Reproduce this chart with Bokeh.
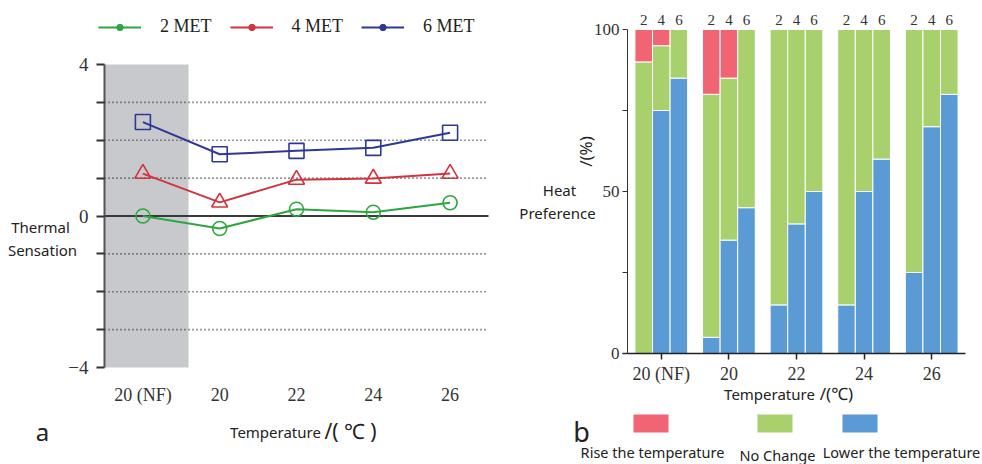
import math
from bokeh.plotting import figure
from bokeh.layouts import row
from bokeh.models import (ColumnDataSource, FixedTicker, BoxAnnotation, Label,
                          LabelSet, Legend, LegendItem, LinearAxis, Range1d)
from bokeh.core.properties import value
from bokeh.embed import file_html
from bokeh.resources import INLINE

# ---------------- data ----------------
temp_labels = ["20 (NF)", "20", "22", "24", "26"]
met_names = ["2 MET", "4 MET", "6 MET"]
met_short = ["2", "4", "6"]

# panel a: thermal sensation
ts_2met = [0.0, -0.33, 0.18, 0.1, 0.35]
ts_4met = [1.12, 0.36, 0.96, 0.99, 1.12]
ts_6met = [2.48, 1.63, 1.72, 1.8, 2.2]
ts_ticks = [-4, -3, -2, -1, 0, 1, 2, 3, 4]
ts_tick_labels = {4: "4", 0: "0", -4: "\u22124"}
ts_dotted = [-3, -2, -1, 1, 2, 3]

# panel b: heat preference (%)
rise_2met = [10, 20, 0, 0, 0]
nochange_2met = [90, 75, 85, 85, 75]
lower_2met = [0, 5, 15, 15, 25]

rise_4met = [5, 15, 0, 0, 0]
nochange_4met = [20, 50, 60, 50, 30]
lower_4met = [75, 35, 40, 50, 70]

rise_6met = [0, 0, 0, 0, 0]
nochange_6met = [15, 55, 50, 40, 20]
lower_6met = [85, 45, 50, 60, 80]

hp_ticks = [0, 25, 50, 75, 100]
hp_tick_labels = {0: "0", 50: "50", 100: "100"}
pref_names = ["Rise the temperature", "No Change", "Lower the temperature"]

# ---------------- styles / layout (page pixels) ----------------
SERIF = "Liberation Serif"
SANS = "Noto Sans"
line_colors = ["#2ea640", "#d1343e", "#2e3896"]
markers = ["circle", "triangle", "square"]
marker_sizes = [14, 16, 15]
bar_colors = ["#f06473", "#a8d06c", "#5b9bd5"]  # rise, no change, lower

OX, OY = 0, 0
H = 464
W1, W2 = 516, 466

# panel a plot area in page pixels
A_L, A_R, A_T, A_B = 104, 488, 64, 367
# panel b plot area in page pixels
B_L, B_R, B_T, B_B = 627, 965, 29, 353

a_xpu = (A_R - A_L) / 5.0
a_ypu = (A_B - A_T) / 8.0
b_xpu = (B_R - B_L) / 5.0
b_ypu = (B_B - B_T) / 100.0


def ax1(px):
    return -0.5 + (px - A_L) / a_xpu


def ay1(py):
    return 4 - (py - A_T) / a_ypu


def ax2(px):
    return -0.5 + (px - B_L) / b_xpu


def ay2(py):
    return (B_B - py) / b_ypu


# ---------------- panel a ----------------
p1 = figure(width=W1, height=H,
            x_range=Range1d(ax1(OX), ax1(OX + W1)), y_range=Range1d(ay1(OY + H), ay1(OY)),
            output_backend="svg", toolbar_location=None,
            x_axis_location=None, y_axis_location=None,
            min_border_left=0, min_border_right=0, min_border_top=0, min_border_bottom=0)
p1.outline_line_color = None
p1.xgrid.visible = False
p1.ygrid.visible = False

p1.add_layout(BoxAnnotation(left=-0.5, right=ax1(188), bottom=-4, top=4, fill_color="#c8c9cc",
                            fill_alpha=1.0, line_color=None, level="underlay"))
p1.segment(x0=[-0.5] * len(ts_dotted), x1=[4.5] * len(ts_dotted), y0=ts_dotted, y1=ts_dotted,
           line_color="#333333", line_width=1.6, line_dash="1 3")
p1.segment(x0=[-0.5], x1=[4.5], y0=[0], y1=[0], line_color="#3a3a3a", line_width=2)

xs = list(range(len(temp_labels)))
series = [ts_2met, ts_4met, ts_6met]
legend_items = []
nan = float("nan")
for k, ys in enumerate(series):
    src = ColumnDataSource(dict(x=xs, y=ys))
    lr = p1.line("x", "y", source=src, line_color=line_colors[k], line_width=2)
    p1.scatter("x", "y", source=src, marker=markers[k], size=marker_sizes[k],
               fill_color=None, line_color=line_colors[k], line_width=1.6)
    dummy = p1.scatter(x=[nan], y=[nan], marker="circle", size=5, fill_color=line_colors[k],
                       line_color=line_colors[k])
    legend_items.append(LegendItem(label=met_names[k], renderers=[lr, dummy]))

leg = Legend(items=legend_items, orientation="horizontal", location=(98, 427),
             glyph_width=43, glyph_height=16, label_standoff=19, spacing=18,
             padding=0, margin=0, border_line_color=None, background_fill_alpha=0,
             label_text_font=SERIF, label_text_font_size="18px", label_text_color="#222222")
p1.add_layout(leg, "center")

ya = LinearAxis(fixed_location=-0.5, bounds=(-4, 4), ticker=FixedTicker(ticks=ts_ticks))
ya.major_label_overrides = {t: ts_tick_labels.get(t, "") for t in ts_ticks}
ya.axis_line_color = "#555555"
ya.axis_line_width = 2
ya.major_tick_out = 8
ya.major_tick_in = 0
ya.major_tick_line_color = "#333333"
ya.major_tick_line_width = 2
ya.minor_tick_line_color = None
ya.major_label_text_font = SERIF
ya.major_label_text_font_size = "19px"
ya.major_label_text_color = "#333333"
ya.major_label_standoff = 8
p1.add_layout(ya, "left")

xa = LinearAxis(fixed_location=-4, bounds=(-0.5, 4.5), ticker=FixedTicker(ticks=xs))
xa.major_label_overrides = {i: t for i, t in enumerate(temp_labels)}
xa.axis_line_color = None
xa.major_tick_line_color = None
xa.minor_tick_line_color = None
xa.major_tick_out = 0
xa.major_tick_in = 0
xa.major_label_text_font = SERIF
xa.major_label_text_font_size = "18px"
xa.major_label_text_color = "#333333"
xa.major_label_standoff = 17
p1.add_layout(xa, "below")

for txt, px, py, fs in [("Thermal", 40, 226, "15px"), ("Sensation", 42, 249, "15px"),
                        ("Temperature", 275, 431, "15px"), ("/( \u2103 )", 350, 430, "21px"),
                        ("a", 42, 431, "24px")]:
    p1.add_layout(Label(x=ax1(px), y=ay1(py), text=txt, text_align="center",
                        text_baseline="middle", text_font=SANS, text_font_size=fs,
                        text_color="#222222"))

# ---------------- panel b ----------------
p2 = figure(width=W2, height=H,
            x_range=Range1d(ax2(OX + W1), ax2(OX + W1 + W2)), y_range=Range1d(ay2(OY + H), ay2(OY)),
            output_backend="svg", toolbar_location=None,
            x_axis_location=None, y_axis_location=None,
            min_border_left=0, min_border_right=0, min_border_top=0, min_border_bottom=0)
p2.outline_line_color = None
p2.xgrid.visible = False
p2.ygrid.visible = False

bar_w = 0.26
met_data = [(rise_2met, nochange_2met, lower_2met),
            (rise_4met, nochange_4met, lower_4met),
            (rise_6met, nochange_6met, lower_6met)]
lab_x, lab_t = [], []
for j, (rise, noch, low) in enumerate(met_data):
    bx = [i + (j - 1) * bar_w for i in xs]
    b_low_top = list(low)
    b_no_top = [l + n for l, n in zip(low, noch)]
    b_rise_top = [l + n + r for l, n, r in zip(low, noch, rise)]
    src = ColumnDataSource(dict(x=bx, zero=[0] * len(bx), lt=b_low_top, nt=b_no_top, rt=b_rise_top))
    p2.vbar(x="x", width=bar_w, bottom="zero", top="lt", source=src,
            fill_color=bar_colors[2], line_color="white", line_width=1)
    p2.vbar(x="x", width=bar_w, bottom="lt", top="nt", source=src,
            fill_color=bar_colors[1], line_color="white", line_width=1)
    p2.vbar(x="x", width=bar_w, bottom="nt", top="rt", source=src,
            fill_color=bar_colors[0], line_color="white", line_width=1)
    lab_x += bx
    lab_t += [met_short[j]] * len(bx)

lab_src = ColumnDataSource(dict(x=lab_x, y=[ay2(19)] * len(lab_x), t=lab_t))
p2.add_layout(LabelSet(x="x", y="y", text="t", source=lab_src, text_align="center",
                       text_baseline="middle", text_font=value(SERIF), text_font_size="15px",
                       text_color="#333333"))

ya2 = LinearAxis(fixed_location=-0.5, bounds=(0, 100), ticker=FixedTicker(ticks=hp_ticks))
ya2.major_label_overrides = {t: hp_tick_labels.get(t, "") for t in hp_ticks}
ya2.axis_line_color = "#333333"
ya2.axis_line_width = 1
ya2.major_tick_out = 5
ya2.major_tick_in = 0
ya2.major_tick_line_color = "#333333"
ya2.minor_tick_line_color = None
ya2.major_label_text_font = SERIF
ya2.major_label_text_font_size = "17px"
ya2.major_label_text_color = "#333333"
ya2.major_label_standoff = 3
p2.add_layout(ya2, "left")

xa2 = LinearAxis(fixed_location=0, bounds=(ax2(B_L - 5), 4.5), ticker=FixedTicker(ticks=xs))
xa2.major_label_overrides = {i: t for i, t in enumerate(temp_labels)}
xa2.axis_line_color = "#222222"
xa2.axis_line_width = 1.5
xa2.major_tick_out = 6
xa2.major_tick_in = 0
xa2.major_tick_line_color = "#222222"
xa2.major_tick_line_width = 1.5
xa2.minor_tick_line_color = None
xa2.major_label_text_font = SERIF
xa2.major_label_text_font_size = "18px"
xa2.major_label_text_color = "#333333"
xa2.major_label_standoff = 4
p2.add_layout(xa2, "below")

for txt, px, py, fs, ang in [("Heat", 559, 189, "15px", 0), ("Preference", 557, 212, "15px", 0),
                             ("/(%)", 585, 151, "17px", math.pi / 2),
                             ("Temperature", 769, 393, "15px", 0),
                             ("/(\u2103)", 836, 393, "17px", 0),
                             ("b", 581, 431, "27px", 0)]:
    p2.add_layout(Label(x=ax2(px), y=ay2(py), text=txt, text_align="center", angle=ang,
                        text_baseline="middle", text_font=SANS, text_font_size=fs,
                        text_color="#222222"))

# bottom legend (colour swatches with labels beneath)
swatch_left = [633, 757, 842]
label_center = [652, 777, 901]
label_y = [451, 454, 451]
for k in range(3):
    p2.add_layout(BoxAnnotation(left=ax2(swatch_left[k]), right=ax2(swatch_left[k] + 35),
                                top=ay2(414), bottom=ay2(432), fill_color=bar_colors[k],
                                fill_alpha=1.0, line_color=None))
    p2.add_layout(Label(x=ax2(label_center[k]), y=ay2(label_y[k]), text=pref_names[k],
                        text_align="center", text_baseline="middle", text_font=SANS,
                        text_font_size="14.5px", text_color="#222222"))

layout = row(p1, p2)
open("out.html", "w").write(file_html(layout, INLINE))
